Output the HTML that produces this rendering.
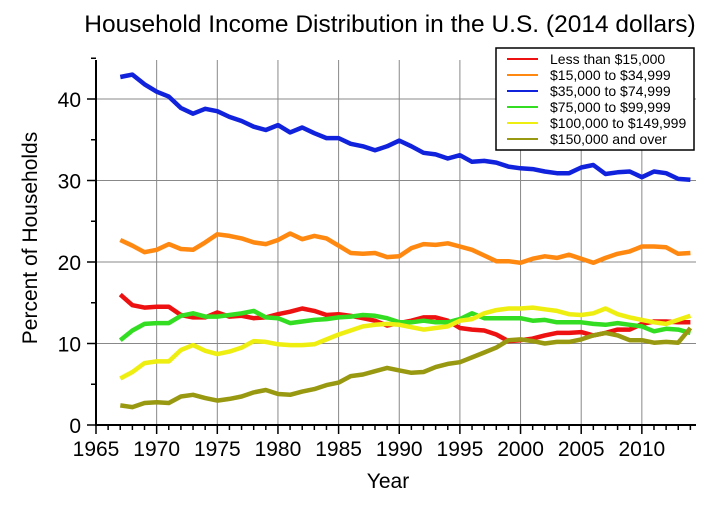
<!DOCTYPE html><html><head><style>body{margin:0;background:#fff}svg{font-family:"Liberation Sans",sans-serif}</style></head><body>
<svg id="s" width="711" height="512" xmlns="http://www.w3.org/2000/svg"></svg>
<script>
const S=document.getElementById('s');let h='';
const X=y=>96+(y-1965)*12.13, Y=v=>425-v*8.15;
h+='<rect width="711" height="512" fill="#fff"/>';
h+='<text x="390" y="32" font-size="24.5" text-anchor="middle">Household Income Distribution in the U.S. (2014 dollars)</text>';
for(let v=10;v<=40;v+=10)h+=`<line x1="96" x2="696" y1="${Y(v)}" y2="${Y(v)}" stroke="#888" stroke-width="1"/>`;
for(let y=1970;y<=2010;y+=5)h+=`<line x1="${X(y)}" x2="${X(y)}" y1="60" y2="425" stroke="#888" stroke-width="1"/>`;
h+='<line x1="96" y1="60" x2="96" y2="426" stroke="#000" stroke-width="2"/><line x1="95" y1="425" x2="696" y2="425" stroke="#000" stroke-width="2"/>';
for(let v=0;v<=45;v+=5){let L=v%10?5:9;h+=`<line x1="${96-L}" x2="96" y1="${Y(v)}" y2="${Y(v)}" stroke="#000" stroke-width="1.5"/>`;if(v%10==0)h+=`<text x="81" y="${Y(v)+8}" font-size="21" text-anchor="end">${v}</text>`;}
for(let y=1965;y<=2014;y++){let L=y%5?5:9;h+=`<line x1="${X(y)}" x2="${X(y)}" y1="425" y2="${425+L}" stroke="#000" stroke-width="1.5"/>`;if(y%5==0)h+=`<text x="${X(y)}" y="456" font-size="21" text-anchor="middle">${y}</text>`;}
h+='<text x="388" y="488" font-size="21" text-anchor="middle">Year</text>';
h+='<text transform="translate(37,238) rotate(-90)" font-size="21" text-anchor="middle">Percent of Households</text>';
const D=[
['#ee1111',[16.0,14.7,14.4,14.5,14.5,13.5,13.2,13.2,13.8,13.3,13.4,13.1,13.2,13.6,13.9,14.3,14.0,13.5,13.6,13.4,13.1,12.8,12.2,12.5,12.8,13.2,13.2,12.8,11.9,11.7,11.6,11.1,10.3,10.4,10.6,11.0,11.3,11.3,11.4,11.0,11.3,11.7,11.7,12.4,12.7,12.7,12.6,12.6]],
['#ff8811',[22.7,22.0,21.2,21.5,22.2,21.6,21.5,22.4,23.4,23.2,22.9,22.4,22.2,22.7,23.5,22.8,23.2,22.9,22.0,21.1,21.0,21.1,20.6,20.7,21.7,22.2,22.1,22.3,21.9,21.5,20.8,20.1,20.1,19.9,20.4,20.7,20.5,20.9,20.4,19.9,20.5,21.0,21.3,21.9,21.9,21.8,21.0,21.1]],
['#1122dd',[42.7,43.0,41.8,40.9,40.3,38.9,38.2,38.8,38.5,37.8,37.3,36.6,36.2,36.8,35.9,36.5,35.8,35.2,35.2,34.5,34.2,33.7,34.2,34.9,34.2,33.4,33.2,32.7,33.1,32.3,32.4,32.2,31.7,31.5,31.4,31.1,30.9,30.9,31.6,31.9,30.8,31.0,31.1,30.4,31.1,30.9,30.2,30.1]],
['#33dd22',[10.4,11.6,12.4,12.5,12.5,13.4,13.7,13.3,13.3,13.5,13.7,14.0,13.2,13.1,12.5,12.7,12.9,13.0,13.2,13.3,13.5,13.4,13.1,12.6,12.6,12.8,12.6,12.6,13.0,13.7,13.1,13.1,13.1,13.1,12.8,12.9,12.6,12.6,12.6,12.4,12.3,12.5,12.3,12.1,11.5,11.8,11.7,11.3]],
['#eeee11',[5.7,6.5,7.6,7.8,7.8,9.2,9.8,9.1,8.7,9.0,9.5,10.3,10.2,9.9,9.8,9.8,9.9,10.5,11.1,11.6,12.1,12.3,12.4,12.3,12.0,11.7,11.9,12.1,12.8,13.0,13.7,14.1,14.3,14.3,14.4,14.2,14.0,13.6,13.5,13.7,14.3,13.6,13.2,12.9,12.6,12.4,12.9,13.4]],
['#999911',[2.4,2.2,2.7,2.8,2.7,3.5,3.7,3.3,3.0,3.2,3.5,4.0,4.3,3.8,3.7,4.1,4.4,4.9,5.2,6.0,6.2,6.6,7.0,6.7,6.4,6.5,7.1,7.5,7.7,8.3,8.9,9.5,10.4,10.5,10.3,10.0,10.2,10.2,10.5,11.0,11.3,11.0,10.4,10.4,10.1,10.2,10.1,11.9]]];
const names=['Less than $15,000','$15,000 to $34,999','$35,000 to $74,999','$75,000 to $99,999','$100,000 to $149,999','$150,000 and over'];
D.forEach(([c,a])=>{h+=`<polyline fill="none" stroke="${c}" stroke-width="4.5" stroke-linejoin="round" points="${a.map((v,i)=>X(1967+i).toFixed(1)+','+Y(v).toFixed(1)).join(' ')}"/>`;});
h+='<rect x="496" y="48" width="198" height="102" fill="#fff" stroke="#000" stroke-width="1.5"/>';
D.forEach(([c],i)=>{let y=59+i*16;h+=`<line x1="507" x2="538" y1="${y}" y2="${y}" stroke="${c}" stroke-width="2"/><text x="550" y="${y+5}" font-size="14">${names[i]}</text>`;});
S.innerHTML=h;
</script></body></html>
